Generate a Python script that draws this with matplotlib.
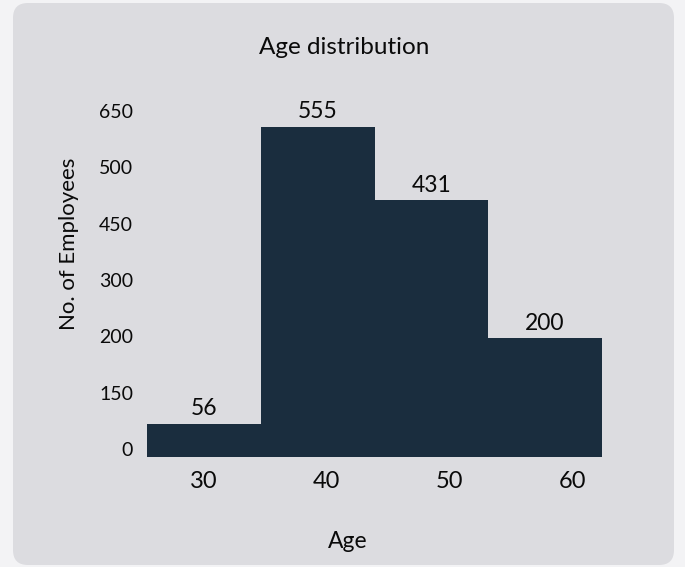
import numpy as np
import matplotlib.pyplot as plt
from matplotlib.patches import FancyBboxPatch
from matplotlib.transforms import IdentityTransform

plt.rcParams['font.family'] = ['Lato', 'DejaVu Sans']

# data
ages = ['30', '40', '50', '60']
counts = [56, 555, 431, 200]
ytick_labels = ['0', '150', '200', '300', '450', '500', '650']

bar_color = '#1a2d3e'
panel_color = '#dcdce0'
outer_color = '#f3f3f5'
text_color = '#0a0a0a'

W, H, DPI = 685, 567, 100
fig = plt.figure(figsize=(W / DPI, H / DPI), dpi=DPI, facecolor=outer_color)

# rounded grey card behind everything (pixel coords)
card = FancyBboxPatch((13, 2), 661, 562, boxstyle='round,pad=0,rounding_size=15',
                      transform=IdentityTransform(), facecolor=panel_color,
                      edgecolor='none', zorder=-10)
fig.patches.append(card)

# axes placed in pixels: left 147, right 602, baseline 457
ax = fig.add_axes([147 / W, (H - 457) / H, 455 / W, 387 / H], zorder=5)
ax.patch.set_visible(False)
for s in ax.spines.values():
    s.set_visible(False)

ytop = 650
x = np.arange(len(counts))
bars = ax.bar(x, counts, width=1.0, color=bar_color, linewidth=0)
ax.set_xlim(-0.5, len(counts) - 0.5)
ax.set_ylim(0, ytop)

for b, v in zip(bars, counts):
    ax.annotate(str(v), (b.get_x() + b.get_width() / 2, v), xytext=(0, 3),
                textcoords='offset points', ha='center', va='bottom',
                fontsize=16.5, color=text_color)

# tick labels are evenly spaced along each axis
ax.set_yticks(np.linspace(0.02, 0.895, len(ytick_labels)) * ytop, ytick_labels)
ax.set_xticks(np.linspace(0, 3.24, len(ages)), ages)
ax.tick_params(axis='y', length=0, pad=10, labelsize=14, labelcolor=text_color)
ax.tick_params(axis='x', length=0, pad=10, labelsize=17, labelcolor=text_color)

ax.set_ylabel('No. of Employees', fontsize=16, color=text_color)
ax.yaxis.set_label_coords(-0.15, 0.55)
ax.set_xlabel('Age', fontsize=16.5, color=text_color)
ax.xaxis.set_label_coords(0.442, -0.19)

fig.text(344 / W, 1 - 47 / H, 'Age distribution', ha='center', va='center',
         fontsize=17.5, color=text_color)

fig.savefig('out.png', dpi=DPI, facecolor=outer_color)
